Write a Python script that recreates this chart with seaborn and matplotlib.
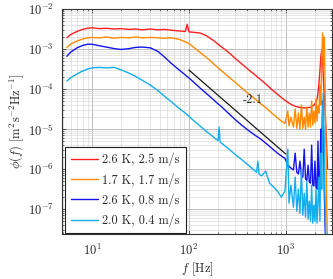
import numpy as np
import pandas as pd
import seaborn as sns
import matplotlib
matplotlib.use("Agg")
import matplotlib.pyplot as plt
from matplotlib import ticker

# frequency grid [Hz]
freq = [5.5, 6, 7, 8, 9, 10, 12, 14, 17, 20, 24, 28, 33, 40, 48, 56, 66, 80,
        92, 96, 100, 110, 130, 150, 180, 200, 205, 210, 250, 300, 350, 420,
        500, 515, 530, 560, 620, 680, 750, 820, 900, 980, 1050, 1080, 1130,
        1200, 1250, 1300, 1350, 1400, 1450, 1500, 1550, 1600, 1650, 1700,
        1750, 1800, 1850, 1900, 1950, 2000, 2050, 2100, 2150, 2200, 2250,
        2300, 2350, 2400, 2450, 2500, 2550, 2600, 2650, 2700]

# log10 of the spectra
red = [-2.72, -2.64, -2.56, -2.51, -2.48, -2.47, -2.49, -2.48, -2.50, -2.49,
       -2.51, -2.50, -2.52, -2.50, -2.52, -2.51, -2.53, -2.55, -2.56, -2.38,
       -2.57, -2.58, -2.60, -2.66, -2.79, -2.88, -2.90, -2.92, -3.06, -3.23,
       -3.37, -3.53, -3.68, -3.71, -3.73, -3.78, -3.87, -3.96, -4.05, -4.13,
       -4.21, -4.28, -4.33, -4.35, -4.38, -4.41, -4.43, -4.44, -4.45, -4.46,
       -4.46, -4.47, -4.47, -4.47, -4.47, -4.46, -4.46, -4.45, -4.44, -4.42,
       -4.40, -4.37, -4.32, -4.25, -4.10, -3.85, -3.55, -3.20, -3.02, -3.30,
       -3.80, -4.20, -4.60, -5.00, -5.50, -6.00]
orange = [-2.96, -2.88, -2.80, -2.75, -2.72, -2.71, -2.72, -2.70, -2.73, -2.71,
          -2.72, -2.70, -2.72, -2.71, -2.72, -2.73, -2.72, -2.76, -2.82, -2.84,
          -2.86, -2.94, -3.08, -3.20, -3.37, -3.47, -3.49, -3.51, -3.67, -3.83,
          -3.97, -4.13, -4.28, -4.30, -4.33, -4.38, -4.46, -4.55, -4.64, -4.72,
          -4.80, -4.86, -4.55, -4.92, -4.70, -4.95, -4.50, -4.98, -4.60, -5.00,
          -4.40, -4.98, -4.70, -5.00, -4.45, -4.95, -4.60, -4.95, -4.30, -4.90,
          -4.55, -4.85, -4.25, -4.80, -4.40, -4.60, -3.90, -4.40, -3.20, -2.60,
          -3.40, -2.70, -4.00, -5.50, -7.00, -8.00]
blue = [-3.18, -3.08, -2.97, -2.91, -2.88, -2.88, -2.92, -2.95, -2.99, -3.01,
        -2.99, -2.96, -2.95, -2.97, -3.06, -3.20, -3.36, -3.53, -3.65, -3.69,
        -3.72, -3.81, -3.97, -4.10, -4.27, -4.37, -4.39, -4.41, -4.58, -4.76,
        -4.90, -5.05, -5.18, -5.20, -5.22, -5.26, -5.35, -5.43, -5.52, -5.60,
        -5.67, -5.73, -5.90, -5.93, -5.97, -6.02, -5.60, -6.08, -6.12, -5.80,
        -6.15, -6.20, -5.50, -6.25, -6.28, -5.90, -6.32, -6.35, -5.40, -6.40,
        -6.42, -5.80, -6.45, -6.50, -5.30, -6.55, -6.20, -5.00, -5.60, -4.30,
        -5.00, -6.60, -7.50, -8.00, -8.00, -8.00]
light = [-3.80, -3.72, -3.62, -3.55, -3.50, -3.47, -3.46, -3.47, -3.46, -3.52,
         -3.60, -3.68, -3.78, -3.90, -4.04, -4.18, -4.32, -4.49, -4.60, -4.64,
         -4.68, -4.77, -4.92, -5.05, -5.20, -5.29, -4.95, -5.32, -5.47, -5.63,
         -5.76, -5.92, -6.08, -5.80, -6.12, -6.17, -6.05, -6.35, -6.45, -6.55,
         -6.70, -6.55, -5.50, -6.85, -6.40, -6.95, -6.20, -7.05, -6.50, -7.10,
         -6.00, -7.15, -6.60, -7.20, -6.30, -7.25, -6.80, -7.30, -6.40, -7.35,
         -6.90, -7.30, -6.50, -7.35, -6.80, -6.20, -7.30, -5.60, -6.50, -4.60,
         -4.10, -5.80, -7.00, -7.80, -8.00, -8.00]

labels = ["2.6 K, 2.5 m/s", "1.7 K, 1.7 m/s", "2.6 K, 0.8 m/s", "2.0 K, 0.4 m/s"]
colors = ["#ff1f1f", "#ff8a00", "#1414f0", "#12aeee"]

# reference slope line
slope_f = [100, 1000]
slope_phi = [3e-4, 3e-4 * 10 ** -2.1]

sns.set_theme(style="ticks")
plt.rcParams["font.family"] = "serif"
plt.rcParams["font.serif"] = ["cmr10", "DejaVu Serif"]
plt.rcParams["mathtext.fontset"] = "cm"
plt.rcParams["axes.formatter.use_mathtext"] = True
plt.rcParams["axes.unicode_minus"] = False

fig = plt.figure(figsize=(3.33, 2.79), dpi=100)
ax = fig.add_axes([62 / 333, 45 / 279, 270 / 333, 225 / 279])
ax.set_xscale("log")
ax.set_yscale("log")

for vals, lab, col in zip([red, orange, blue, light], labels, colors):
    df = pd.DataFrame({"f": freq, "phi": 10 ** np.array(vals)})
    sns.lineplot(data=df, x="f", y="phi", color=col, lw=1.0, label=lab,
                 estimator=None, sort=False, ax=ax)

ax.plot(slope_f, slope_phi, color="#1a1a1a", lw=0.9)
ax.text(460, 5.3e-5, "-2.1", fontsize=9, ha="center", va="center")

ax.set_xlim(4.9, 3000)
ax.set_ylim(2.4e-8, 1e-2)
ax.xaxis.set_minor_locator(ticker.LogLocator(base=10, subs=np.arange(2, 10), numticks=20))
ax.yaxis.set_minor_locator(ticker.LogLocator(base=10, subs=np.arange(2, 10), numticks=20))
ax.xaxis.set_minor_formatter(ticker.NullFormatter())
ax.yaxis.set_minor_formatter(ticker.NullFormatter())
ax.yaxis.set_major_locator(ticker.LogLocator(base=10, numticks=20))

ax.grid(True, which="major", color="#bdbdbd", lw=0.7)
ax.grid(True, which="minor", color="#dadada", lw=0.5)
ax.tick_params(which="both", direction="in", top=True, right=True,
               labelsize=9, color="#333333")
ax.tick_params(which="major", length=3, width=0.6, pad=6)
ax.tick_params(which="minor", length=1.6, width=0.5)
for s in ax.spines.values():
    s.set_color("#333333")
    s.set_linewidth(0.8)

ax.set_xlabel(r"$f$ [Hz]", fontsize=9, labelpad=2)
ax.set_ylabel(r"$\phi(f)$ [m$^2$s$^{-2}$Hz$^{-1}$]", fontsize=9, labelpad=1)

leg = ax.legend(loc="lower left", bbox_to_anchor=(0.011, 0.004), borderaxespad=0,
                fontsize=8.8, fancybox=False, framealpha=1, edgecolor="#222222",
                handlelength=2.2, handletextpad=0.35, labelspacing=0.55,
                borderpad=0.5)
leg.get_frame().set_linewidth(0.8)

fig.savefig("out.png", dpi=100)
